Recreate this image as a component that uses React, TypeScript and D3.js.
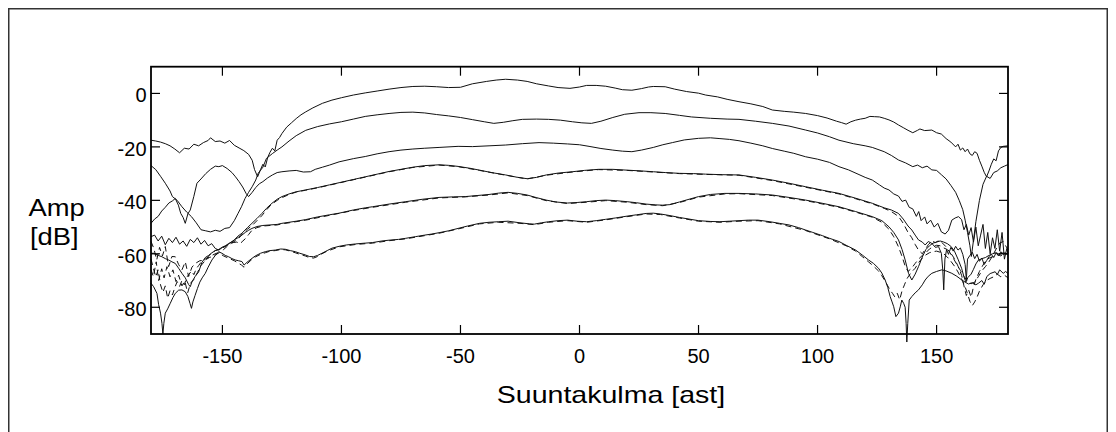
import React from 'react';
import * as d3 from 'd3';

type Pt = [number, number];

const xTicks = [-150, -100, -50, 0, 50, 100, 150];
const yTicks = [-80, -60, -40, -20, 0];
const xDomain: Pt = [-180, 180];
const yDomain: Pt = [-90, 10];
const xLabel = 'Suuntakulma [ast]';
const yLabelTop = 'Amp';
const yLabelBottom = '[dB]';

const curve1: Pt[] = [
  [-180,-17.5],[-178,-17.8],[-176,-18.2],[-174,-18.8],[-172,-19.6],[-170,-20.8],[-168,-22.2],[-166,-20.5],[-164,-20.8],[-162,-19.0],[-160,-19.6],[-158,-18.4],[-156,-17.6],[-155,-16.6],[-153,-18.0],[-151,-17.8],[-149,-18.6],[-147,-17.6],[-145,-19.4],[-143,-20.4],[-141,-21.4],[-139,-22.8],[-137.5,-25],[-136.5,-28.5],[-135.2,-31.2],[-134,-28.5],[-133,-26.5],[-132,-27.5],[-131,-24],[-130,-22],[-129,-20.5],[-128,-21.5],[-127,-17.5],[-126,-16.5],[-125,-15],[-123,-12.6],[-121,-11],[-119,-9.4],[-117,-8],[-115,-6.9],[-112,-5.4],[-108,-3.7],[-104,-2.5],[-100,-1.6],[-95,-0.6],[-90,0.2],[-85,0.9],[-80,1.6],[-75,2.2],[-70,2.6],[-65,2.7],[-60,2.5],[-55,2.2],[-50,2.3],[-45,3.6],[-39,4.5],[-35,5.0],[-31,5.3],[-26,5.0],[-22,4.5],[-18,3.6],[-13,2.8],[-9,2.2],[-4,1.9],[0,2.4],[3,3.0],[7,3.0],[11,2.7],[15,2.0],[18,1.4],[22,1.2],[26,1.8],[29,2.4],[31,2.6],[36,2.5],[40,1.6],[45,0.7],[50,0.1],[53,-0.6],[58,-1.3],[62,-2.2],[67,-3.1],[72,-3.9],[77,-4.9],[81,-6.2],[86,-6.7],[90,-7.0],[95,-7.5],[100,-8.3],[104,-9.2],[108,-10.4],[110,-10.9],[112,-11.5],[114,-10.6],[116,-10.0],[118,-9.6],[120,-9.3],[122,-8.6],[124,-8.7],[126,-8.8],[128,-9.3],[130,-9.9],[132,-10.7],[134,-11.8],[136,-12.8],[138,-13.8],[140,-14.7],[142,-13.8],[143,-13.3],[145,-13.9],[148,-13.7],[150,-14.7],[152,-15.2],[154,-16.9],[156,-18.2],[158,-20],[159,-19],[160,-21.2],[161,-20.4],[162,-21.8],[163,-20.8],[164,-22.6],[165,-23.2],[166,-21.8],[167,-22.4],[168,-25],[169,-27.2],[170,-29.5],[171,-31.2],[172,-29],[173,-26.5],[174,-24.5],[175,-25.2],[176,-21.5],[177,-20.2],[178,-19.8],[180,-19.6]
];

const curve2: Pt[] = [
  [-180,-27],[-178,-28.5],[-176,-31],[-174,-33.6],[-172,-36.5],[-171,-38.6],[-169,-40],[-167,-42.4],[-165,-44.4],[-163,-46.1],[-161,-48.4],[-159,-51],[-157,-51.4],[-155,-51.8],[-153,-51.2],[-151,-51.6],[-149,-50.5],[-147,-50.2],[-145,-47.6],[-143.5,-45],[-142,-42.4],[-140.5,-39.3],[-139,-37],[-137.5,-34.9],[-136,-32.4],[-135,-29.9],[-133,-27.6],[-131.5,-24.3],[-129,-22.5],[-127,-21.2],[-125,-20],[-122,-17.8],[-119,-15.8],[-115,-13.8],[-110,-12.4],[-105,-11.4],[-100,-10.6],[-95,-9.6],[-90,-8.6],[-85,-8.0],[-80,-7.5],[-75,-7.1],[-70,-7.0],[-65,-7.3],[-60,-7.9],[-55,-8.4],[-50,-9.0],[-45,-9.8],[-40,-10.6],[-36,-11.2],[-32,-10.8],[-28,-10.2],[-24,-9.7],[-18,-9.6],[-13,-9.7],[-8,-10.0],[-3,-10.6],[1,-11.0],[5,-11.2],[9,-10.4],[14,-9.0],[19,-7.8],[25,-7.2],[30,-7.2],[36,-7.5],[42,-8.2],[47,-8.8],[55,-9.3],[62,-9.6],[67,-9.7],[74,-10.4],[81,-11.2],[88,-12.2],[95,-13.7],[100,-14.8],[105,-16.2],[109,-17.5],[115,-18.8],[120,-19.6],[123,-20.2],[128,-21.8],[131,-23.2],[134,-24.9],[137,-26.0],[140,-27.4],[142,-26.8],[144,-27.8],[146,-27.2],[148,-28.6],[150,-28.8],[152,-30.4],[154,-32.0],[156,-34.4],[158,-37.0],[159.5,-40],[161,-43.5],[162,-47.4],[163,-52],[164,-57],[164.6,-61],[165.5,-55],[166.5,-48],[168,-40],[169.5,-34],[171,-31],[172.5,-31.8],[174,-29.6],[175.5,-29.0],[177,-27.8],[178.5,-27.2],[180,-26.6]
];

const curve3: Pt[] = [
  [-180,-48.6],[-178.5,-47],[-177,-46],[-175.5,-44],[-174,-42.6],[-172.5,-41],[-171,-40.2],[-169.8,-39.3],[-168.5,-41.8],[-167.5,-44.9],[-166.5,-46.4],[-165.6,-48.6],[-164.5,-45],[-163.5,-43.6],[-162,-38.5],[-160.7,-33.6],[-159,-32],[-157,-30],[-155,-28.4],[-153,-27.2],[-151.5,-27.4],[-150,-27.0],[-148,-28.1],[-146,-29.6],[-144.5,-31.2],[-143,-33],[-141.5,-35],[-140,-37.5],[-139,-38.6],[-137.5,-37],[-136,-35.2],[-134.5,-33.8],[-133,-33],[-131,-31.6],[-129,-30.5],[-127,-29.6],[-125,-29.3],[-122,-29.0],[-119,-28.8],[-116,-29.4],[-113,-29.3],[-111,-28.4],[-108,-27.6],[-105,-26.8],[-101,-25.6],[-95,-24.4],[-90,-23.6],[-85,-22.6],[-80,-21.8],[-75,-21.2],[-70,-20.8],[-65,-20.5],[-59,-20.2],[-51,-19.8],[-45,-19.9],[-38,-19.6],[-31,-19.3],[-24,-18.8],[-17,-18.4],[-11,-18.6],[-5,-18.9],[0,-19.2],[4,-19.8],[9,-20.6],[14,-21.2],[18,-21.6],[22,-21.8],[26,-21.2],[31,-20.2],[35,-19.2],[39,-18.4],[44,-17.4],[50,-16.8],[55,-16.6],[59,-16.9],[63,-17.2],[67,-17.7],[72,-18.6],[77,-19.6],[81,-20.6],[86,-21.6],[90,-22.4],[95,-23.7],[100,-24.6],[105,-25.8],[109,-27.4],[113,-28.6],[117,-30.2],[120,-31.4],[123,-32.4],[126,-34.2],[128,-35.4],[130,-36.1],[132,-37.6],[134,-38.4],[135.5,-40.4],[137,-39.9],[138.5,-42.6],[140,-43.2],[141.5,-46],[142.5,-44.2],[143.5,-47.6],[145,-46.2],[146,-48.8],[147.5,-47.4],[149,-50],[150.5,-48.6],[152,-51.8],[153.6,-52.6],[155,-51.2],[156.4,-47.4],[157.8,-46.6],[159.2,-46.1],[160.5,-47.2],[161.5,-51],[162.5,-49],[163.5,-53],[164.5,-50.2],[165.5,-55.6],[166.5,-50],[167.5,-57],[168.5,-53],[169.5,-49],[170.5,-58],[171.5,-52],[172.5,-60],[173.5,-54],[174.5,-58],[175.5,-51],[176.5,-59],[177.5,-52],[178.5,-62],[179.5,-58],[180,-60]
];

const curve4: Pt[] = [
  [-180,-53.6],[-178.5,-53.0],[-177,-55.2],[-175.5,-53.4],[-174,-56.6],[-172.5,-54.2],[-171,-55.8],[-169.5,-53.8],[-168,-56.4],[-166.5,-55.2],[-165,-57.2],[-163.5,-54.6],[-162,-55.8],[-160.5,-54],[-159,-56.4],[-157.5,-55],[-156,-57],[-154.5,-56.2],[-153,-58],[-151.5,-58.6],[-150,-57.6],[-148.8,-57.3],[-147,-56],[-145,-54.8],[-143.5,-53.4],[-141.8,-52.3],[-139.5,-50.2],[-137.6,-48.6],[-135.5,-46.8],[-133.4,-44.9],[-131.5,-43],[-129.2,-41.1],[-127,-39.6],[-125,-38.6],[-122,-37.6],[-119,-36.8],[-115,-36.1],[-110,-35.2],[-105,-34.2],[-101,-33.4],[-95,-32.2],[-90,-31.2],[-85,-30.2],[-80,-29.2],[-75,-28.4],[-70,-27.6],[-65,-27.0],[-59,-26.7],[-55,-26.9],[-51,-27.3],[-46,-28.0],[-42,-28.7],[-37,-29.6],[-31,-30.5],[-26,-31.4],[-22,-31.9],[-18,-31.4],[-14,-30.5],[-9,-29.8],[-3,-29.3],[2,-28.8],[8,-28.4],[14,-28.4],[20,-28.7],[26,-29.0],[31,-29.3],[36,-29.6],[42,-29.9],[48,-30.0],[53,-30.2],[60,-30.4],[67,-30.5],[74,-31.4],[81,-32.4],[88,-33.6],[95,-34.9],[102,-36.2],[109,-37.4],[116,-39.2],[123,-41.1],[128,-42.8],[131,-43.6],[134,-44.9],[136,-47],[138,-49.6],[139.6,-51.1],[141,-53],[142.4,-54.8],[144,-55.6],[145.2,-56.7],[146.5,-55.4],[148,-56.1],[149.5,-57.6],[150.8,-57.3],[152,-59.8],[152.6,-66],[153,-73.5],[153.5,-62],[154.2,-58.4],[155,-60.2],[156,-57.6],[157,-59],[158,-57.2],[159,-58.6],[160,-57.8],[161,-60.2],[162,-64],[162.5,-69.8],[163,-62],[164,-60.6],[165,-59.4],[166,-61.8],[167,-60.2],[168,-62.8],[169,-61.6],[170,-64],[171,-62.6],[172,-61],[173,-60.2],[174,-61.4],[175,-59.6],[176,-60.8],[177,-59.2],[178,-60.2],[179,-59.8],[180,-60.4]
];

const curve4Dash: Pt[] = [
  [-180,-55.4],[-178.8,-58],[-177.6,-62.3],[-176.4,-57.6],[-175.2,-60.8],[-174,-57.3],[-172.6,-64.8],[-171.2,-61],[-169.8,-61.1],[-168.4,-64],[-167,-66],[-165.6,-63],[-164.2,-68.5],[-162.8,-65],[-161.4,-63.6],[-159.5,-62.6],[-157.2,-62.3],[-155.5,-61.4],[-153.5,-60.8],[-151.5,-59.6],[-149.5,-58.4],[-147.5,-56.8],[-145.5,-55.6],[-143.5,-54.6],[-141.5,-52.4],[-139.5,-50.8],[-137.5,-49.4],[-135.5,-47.6],[-133.5,-45.8],[-131.5,-43.6],[-129.5,-41.6],[-127,-40],[-125,-39],[-122,-37.8],[-119,-36.9],[-115,-36.2],[-110,-35.3],[-101,-33.5],[-90,-31.3],[-80,-29.3],[-70,-27.7],[-59,-26.8],[-51,-27.4],[-42,-28.8],[-31,-30.6],[-22,-32.0],[-14,-30.6],[-3,-29.4],[8,-28.5],[20,-28.8],[31,-29.4],[42,-30.0],[53,-30.3],[67,-30.6],[81,-32.6],[95,-35.1],[109,-37.6],[116,-39.4],[123,-41.3],[128,-43],[131,-44.2],[134,-46],[136,-48.6],[138,-52],[139.6,-54],[141,-56.5],[142.4,-58.6],[144,-60],[145.2,-58.4],[146.5,-56.6],[148,-55.2],[149.5,-55.8],[151,-55.0],[152.5,-56],[154,-57.4],[155.5,-59.4],[157,-61.6],[158.5,-64],[160,-66.2],[161.5,-68.4],[163,-70.4],[164.5,-71.2],[166,-70.6],[167.5,-68.6],[169,-66.4],[170.5,-64.8],[172,-63],[173.5,-60.8],[175,-58.2],[176.5,-56],[178,-55.4],[179,-57],[180,-58.4]
];

const curve5: Pt[] = [
  [-180,-59.8],[-178.9,-59.8],[-177,-60.6],[-175.4,-61.1],[-174,-61.8],[-172.6,-62.3],[-171.2,-63],[-169.8,-63.6],[-168.4,-65.4],[-167,-67.3],[-165.6,-69],[-164.2,-71.5],[-163.5,-72.3],[-162.8,-70.5],[-161.4,-68.4],[-160,-66.8],[-158.6,-63.2],[-157.2,-61.4],[-155.8,-60.6],[-154.4,-59.6],[-153,-58.8],[-151.6,-58.4],[-150.2,-57.6],[-148.8,-57],[-147.4,-56.2],[-146,-55.6],[-144.6,-54.6],[-143.2,-53.8],[-141.8,-53],[-140.4,-52],[-139,-51.2],[-137.6,-50.5],[-135.5,-49.8],[-133,-49.4],[-130,-49.2],[-127,-49],[-125,-48.6],[-122,-48.2],[-119,-47.8],[-115,-47.2],[-110,-46.2],[-105,-45.4],[-101,-44.8],[-95,-43.6],[-90,-42.8],[-87,-42.4],[-80,-41.4],[-73,-40.5],[-66,-39.6],[-59,-38.9],[-53,-38.7],[-48,-38.6],[-43,-38.2],[-38,-37.8],[-34,-37.3],[-30,-37.0],[-26,-37.4],[-22,-38.0],[-18,-39.0],[-14,-39.9],[-10,-40.6],[-5,-41.0],[-1,-40.8],[3,-40.5],[7,-40.1],[11,-39.9],[15,-40.1],[20,-40.5],[24,-40.9],[28,-41.4],[32,-41.7],[35,-41.8],[38,-41.6],[42,-40.6],[46,-39.6],[50,-38.6],[55,-37.8],[61,-37.4],[67,-37.4],[74,-37.6],[81,-38.0],[88,-38.9],[95,-39.9],[102,-41.1],[109,-42.4],[116,-44.2],[123,-46.1],[127,-47.6],[130,-49.9],[132,-52],[134,-54.8],[135.5,-58.4],[136.8,-62.3],[138.2,-67.3],[139.6,-69.8],[141,-67.6],[142.4,-64.8],[144,-61.2],[145.5,-58.4],[147,-57],[148.5,-56],[150,-55.6],[151.5,-55.2],[153,-55.6],[154.5,-56.2],[156,-57.2],[157.5,-59],[159,-62],[160.5,-65.4],[161.5,-68.6],[162.3,-70.6],[163.2,-68.8],[164.5,-67.6],[165.5,-65.8],[166.5,-63.8],[167.5,-62.4],[169,-61.8],[170.5,-61.4],[172,-60.6],[173.5,-60],[175,-59.6],[176.5,-60.2],[178,-59.6],[180,-60]
];

const curve5Dash: Pt[] = [
  [-180,-66],[-179,-68.5],[-177.8,-63],[-176.8,-70],[-175.5,-65.6],[-174.5,-69],[-173.3,-64.8],[-172,-68.6],[-170.8,-66],[-169.5,-70.4],[-168.4,-68],[-167,-72],[-165.8,-70.2],[-164.6,-74.6],[-163.4,-71],[-162,-69.6],[-160.5,-67],[-159,-64.4],[-157.5,-62.8],[-156,-61],[-154.5,-59.8],[-153,-58.8],[-151.5,-58.4],[-150,-57.8],[-148.5,-57],[-147,-56.4],[-145.5,-55.8],[-144,-55.6],[-142.6,-56.2],[-141.4,-55.2],[-140.2,-54.2],[-139,-52.8],[-137.6,-51.2],[-135.5,-50.2],[-133,-49.6],[-130,-49.4],[-127,-49.2],[-125,-48.8],[-122,-48.4],[-115,-47.4],[-105,-45.6],[-95,-43.8],[-87,-42.6],[-73,-40.7],[-59,-39.1],[-48,-38.7],[-38,-38],[-30,-37.2],[-22,-38.2],[-14,-40.1],[-5,-41.2],[3,-40.7],[11,-40.1],[20,-40.7],[28,-41.6],[35,-42.0],[42,-40.8],[50,-38.8],[61,-37.6],[67,-37.5],[81,-38.2],[95,-40.1],[109,-42.6],[116,-44.4],[123,-46.3],[127,-48.2],[130,-50.8],[132,-53.6],[134,-57.4],[135.5,-61],[136.8,-64.6],[138,-66.6],[139.5,-65.4],[141,-63.6],[142.4,-62],[144,-60.6],[145.5,-59.6],[147,-58.2],[148.5,-57.4],[150,-56.8],[151.5,-57],[153,-57.8],[154.5,-58.4],[156,-59.8],[157.5,-61.8],[159,-64.6],[160.5,-68],[161.5,-72],[162.5,-75.6],[163.5,-73.6],[164.5,-76.2],[165.5,-72.4],[166.5,-69.6],[168,-66.6],[169.5,-64.2],[171,-62.2],[172.5,-61.4],[174,-61],[175.5,-60.2],[177,-60.8],[178.5,-59.6],[180,-60.4]
];

const curve6: Pt[] = [
  [-180,-71],[-178.9,-72.3],[-177.5,-74.8],[-176.8,-79],[-176,-82.2],[-175.4,-86],[-175,-90],[-174.6,-86],[-174,-82.2],[-173,-80.6],[-171.9,-78.5],[-170.8,-76.4],[-169.8,-74.8],[-168.4,-73.6],[-167,-73.5],[-165.6,-74.2],[-164.5,-76],[-163.6,-78.6],[-163,-80.4],[-162.4,-78],[-161.5,-75.6],[-160.5,-73],[-159.5,-70.6],[-158.5,-69],[-157.2,-67.3],[-156,-65],[-154.4,-62.3],[-153,-60.6],[-151.6,-59.2],[-150.2,-59.8],[-148.8,-60.6],[-147.4,-61.1],[-146,-61.8],[-144.6,-62.3],[-143.2,-62.6],[-141.8,-62.9],[-140.9,-64.2],[-139.7,-63.2],[-138,-62],[-136.2,-60.8],[-134,-59.8],[-132,-59.2],[-130,-58.8],[-127.8,-58.6],[-125.5,-58.2],[-123.6,-58.3],[-121.5,-58.8],[-119.4,-59.2],[-117.5,-59.8],[-115.2,-60.4],[-113.5,-61],[-111.7,-61.1],[-110,-60.6],[-108.2,-59.8],[-106,-58.8],[-104,-57.9],[-101,-57.2],[-98,-56.7],[-94,-56.3],[-90,-56.0],[-87,-55.8],[-83,-55.2],[-80,-54.9],[-76,-54.6],[-73,-54.2],[-69,-53.6],[-65,-53.0],[-62,-52.6],[-59,-52.1],[-55,-51.4],[-51,-50.5],[-47,-49.6],[-42,-48.6],[-38,-48.2],[-34,-48.0],[-30,-47.8],[-25,-48.4],[-21,-48.8],[-19,-48.9],[-16,-48.4],[-13,-48.0],[-9,-47.6],[-5,-47.4],[-1,-47.8],[3,-48.0],[7,-47.6],[11,-47.1],[15,-46.6],[20,-45.9],[24,-45.4],[28,-44.9],[31,-44.8],[34,-45.1],[38,-45.7],[42,-46.4],[46,-47.0],[50,-47.6],[55,-47.9],[59,-48.0],[63,-47.8],[67,-47.6],[71,-47.4],[75,-47.4],[80,-48.0],[84,-48.6],[88,-49.2],[92,-50.2],[95,-51.1],[98,-52],[102,-53.2],[105,-54.2],[109,-55.4],[112,-56.8],[116,-58.6],[119,-60.6],[121.4,-62.3],[123.5,-63.6],[125.6,-65.4],[127,-67.2],[128.4,-69.8],[129.5,-72.6],[130.5,-76],[131.3,-78],[132,-79.8],[132.9,-83.5],[134,-82.2],[134.8,-79.6],[135.4,-77.3],[136.2,-78.6],[136.8,-80],[137.2,-86],[137.5,-93],[137.9,-86],[138.5,-77.3],[139.6,-76],[141,-74.6],[142.4,-73.5],[144,-71.6],[145.2,-69.8],[146.5,-68.4],[148,-67.3],[150,-66.6],[152.2,-66],[154,-66.4],[156.4,-67.3],[158.5,-68.4],[160.6,-69.8],[162,-70.6],[163.4,-71.3],[165,-70.8],[166.5,-71.6],[167.6,-71],[169,-70],[170,-71.4],[171.1,-68.5],[172.5,-67.4],[174.6,-66.7],[175.5,-67.8],[176.5,-66],[178,-67.3],[179,-66.6],[180,-67.4]
];

const curve6Dash: Pt[] = [
  [-180,-62],[-179,-65.4],[-178,-68.6],[-177,-66],[-176,-71.6],[-175,-74.4],[-174,-72],[-173,-76.6],[-172,-73.8],[-171,-75.4],[-170,-72.6],[-169,-70.4],[-168,-72.2],[-167,-70],[-166,-71.6],[-165,-68.8],[-164,-67.6],[-163,-66.4],[-162,-67.8],[-161,-65.6],[-160,-64.4],[-159,-63.2],[-158,-62.6],[-157,-61.8],[-155.5,-61.2],[-154,-60.4],[-152.5,-59.8],[-151,-60],[-149.5,-60.8],[-148,-61.4],[-146.5,-62],[-145,-62.6],[-143.5,-63.4],[-142,-64.2],[-140.9,-65],[-139.7,-63.8],[-138,-62.4],[-136.2,-61.2],[-134,-60.2],[-132,-59.6],[-130,-59],[-127.8,-58.8],[-125.5,-58.4],[-123.6,-58.5],[-121.5,-59],[-119.4,-59.6],[-117.5,-60.2],[-115.2,-60.8],[-113.5,-61.4],[-111.7,-61.6],[-110,-61],[-108.2,-60],[-106,-59],[-101,-57.4],[-94,-56.5],[-87,-56],[-80,-55.1],[-73,-54.4],[-65,-53.2],[-59,-52.3],[-51,-50.7],[-42,-48.8],[-34,-48.2],[-25,-48.6],[-19,-49.1],[-13,-48.2],[-5,-47.6],[3,-48.2],[11,-47.3],[20,-46.1],[28,-45.1],[34,-45.3],[42,-46.6],[50,-47.8],[59,-48.2],[67,-47.8],[75,-47.6],[84,-48.8],[95,-51.3],[105,-54.4],[112,-57],[116,-59],[119,-61.2],[121.4,-63],[123.5,-64.6],[125.6,-66.4],[127,-68.2],[128.4,-70.2],[129.5,-72],[130.5,-73.6],[131.5,-74.8],[132.5,-76.2],[133.5,-74.8],[134.5,-77.2],[135.5,-73.8],[136.5,-71.6],[137.5,-69.4],[138.5,-68],[139.5,-66.8],[141,-65.4],[142.5,-63.2],[144,-61.6],[145.5,-60.4],[147,-59.6],[148.5,-59.2],[150,-59],[151.5,-59.4],[153,-60],[154.5,-61.2],[156,-62.8],[157.5,-64.6],[159,-66.8],[160.5,-69.4],[162,-72.4],[163,-75],[164,-77.8],[165,-79.4],[166,-78],[167,-76.2],[168,-74],[169.5,-71.6],[171,-70],[172.5,-69.2],[174,-68.6],[175.5,-67.6],[177,-68.6],[178.5,-68],[180,-69]
];

const solidSeries = [curve1, curve2, curve3, curve4, curve5, curve6];
const dashedSeries = [curve4Dash, curve5Dash, curve6Dash];

const FONT = '"Liberation Sans", Arial, Helvetica, sans-serif';

export default function App() {
  const W = 1100;
  const H = 424;
  const plot = { left: 143, right: 1000, top: 58.7, bottom: 326 };
  const x = d3.scaleLinear().domain(xDomain).range([plot.left, plot.right]);
  const y = d3.scaleLinear().domain(yDomain).range([plot.bottom, plot.top]);
  const line = d3.line<Pt>().x((d) => x(d[0])).y((d) => y(d[1]));
  const tickLen = 9;

  return (
    <svg
      width={W}
      height={H}
      style={{ position: 'absolute', left: 8, top: 8, display: 'block', background: '#fff' }}
      fontFamily={FONT}
    >
      <rect x={0.75} y={0.75} width={W - 1.5} height={H + 20} fill="#fff" stroke="#333" strokeWidth={1.5} />

      {solidSeries.map((s, i) => (
        <path key={`s${i}`} d={line(s) || ''} fill="none" stroke="#111" strokeWidth={1} strokeLinejoin="round" />
      ))}
      {dashedSeries.map((s, i) => (
        <path key={`d${i}`} d={line(s) || ''} fill="none" stroke="#111" strokeWidth={1} strokeDasharray="6,4" />
      ))}

      <rect
        x={plot.left}
        y={plot.top}
        width={plot.right - plot.left}
        height={plot.bottom - plot.top}
        fill="none"
        stroke="#000"
        strokeWidth={1.8}
      />

      {xTicks.map((t) => (
        <g key={`xt${t}`}>
          <line x1={x(t)} x2={x(t)} y1={plot.bottom} y2={plot.bottom - tickLen} stroke="#000" strokeWidth={1.2} />
          <line x1={x(t)} x2={x(t)} y1={plot.top} y2={plot.top + tickLen} stroke="#000" strokeWidth={1.2} />
          <text x={x(t)} y={plot.bottom + 28.5} textAnchor="middle" fontSize={20} fill="#000">
            {t}
          </text>
        </g>
      ))}
      {yTicks.map((t) => (
        <g key={`yt${t}`}>
          <line x1={plot.left} x2={plot.left + tickLen} y1={y(t)} y2={y(t)} stroke="#000" strokeWidth={1.2} />
          <line x1={plot.right} x2={plot.right - tickLen} y1={y(t)} y2={y(t)} stroke="#000" strokeWidth={1.2} />
          <text x={plot.left - 4.5} y={y(t) + 9} textAnchor="end" fontSize={20} fill="#000">
            {t}
          </text>
        </g>
      ))}

      <text transform="translate(603,395) scale(1.19,1)" textAnchor="middle" fontSize={24} fill="#000">
        {xLabel}
      </text>
      <text transform="translate(20.5,208) scale(1.14,1)" textAnchor="start" fontSize={24} fill="#000">
        {yLabelTop}
      </text>
      <text transform="translate(22,237) scale(1.14,1)" textAnchor="start" fontSize={24} fill="#000">
        {yLabelBottom}
      </text>
    </svg>
  );
}
